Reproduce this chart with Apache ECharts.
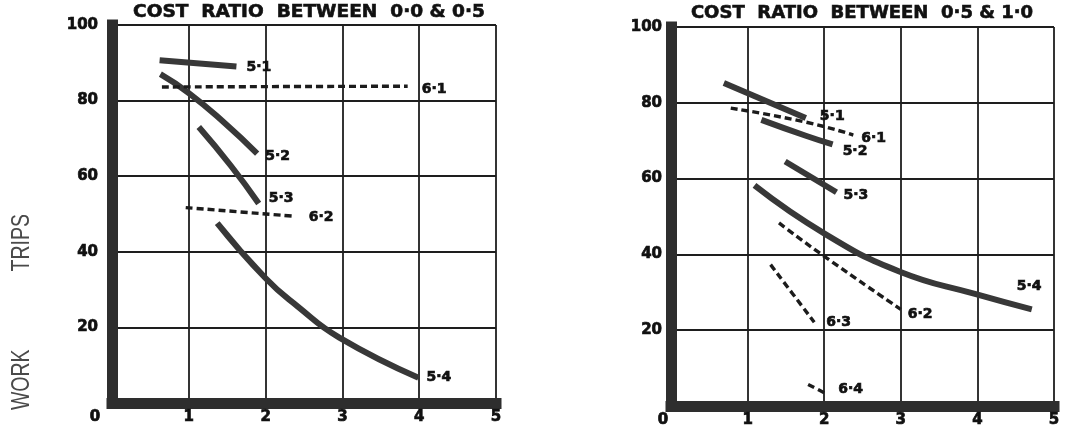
<!DOCTYPE html>
<html><head><meta charset="utf-8">
<script src="https://cdn.jsdelivr.net/npm/echarts@6/dist/echarts.min.js"></script>
<style>html,body{margin:0;padding:0;background:#fff}#c{width:1068px;height:440px}</style>
</head><body><div id="c"></div>
<script>
// ---- text ----
const leftTitle = 'COST  RATIO  BETWEEN  0·0 & 0·5';
const rightTitle = 'COST  RATIO  BETWEEN  0·5 & 1·0';
const yAxisTitle = 'WORK\u2003\u2003\u2003\u2003TRIPS';
const xTicks = [0, 1, 2, 3, 4, 5];
const yTicks = [0, 20, 40, 60, 80, 100];

// ---- left panel: cost ratio 0.0 - 0.5 ----
const L51 = [[0.62, 90.7], [1.62, 89.0]];
const L61 = [[0.65, 83.6], [2.0, 83.7], [3.85, 83.8]];
const L52 = [[0.63, 87.0], [1.0, 82.0], [1.47, 74.0], [1.89, 66.0]];
const L53 = [[1.13, 73.0], [1.55, 62.7], [1.91, 52.8]];
const L62 = [[0.96, 51.7], [2.38, 49.4]];
const L54 = [[1.37, 47.6], [2.0, 33.0], [2.42, 25.5], [2.96, 17.3], [3.99, 6.7]];

// ---- right panel: cost ratio 0.5 - 1.0 ----
const R51 = [[0.69, 85.2], [1.76, 76.0]];
const R61 = [[0.78, 78.6], [1.76, 74.9], [2.38, 71.5]];
const R52 = [[1.18, 75.5], [1.76, 71.3], [2.11, 69.0]];
const R53 = [[1.49, 64.5], [2.16, 56.4]];
const R54 = [[1.09, 58.2], [2.02, 45.3], [2.98, 35.5], [3.98, 29.5], [4.71, 25.5]];
const R62 = [[1.41, 48.3], [2.0, 39.5], [3.0, 25.5]];
const R63 = [[1.30, 37.3], [1.87, 22.1]];
const R64 = [[1.79, 5.7], [2.0, 3.5]];

const leftSeries = [
  {name: '5·1', data: L51, off: [10, 1]},
  {name: '6·1', data: L61, off: [14, 3]},
  {name: '5·2', data: L52, off: [8, 3]},
  {name: '5·3', data: L53, off: [10, -5]},
  {name: '6·2', data: L62, off: [14, 1]},
  {name: '5·4', data: L54, off: [8, 0]}
];
const rightSeries = [
  {name: '5·1', data: R51, off: [14, -2]},
  {name: '6·1', data: R61, off: [8, 3]},
  {name: '5·2', data: R52, off: [10, 7]},
  {name: '5·3', data: R53, off: [7, 3]},
  {name: '5·4', data: R54, off: [-15, -23]},
  {name: '6·2', data: R62, off: [7, 5]},
  {name: '6·3', data: R63, off: [12, 0]},
  {name: '6·4', data: R64, off: [14, -3]}
];

const FONT = 'DejaVu Sans';
const TXT = '#111111';
const heavy = {color: TXT, fontFamily: FONT, fontWeight: 'bold', textBorderColor: TXT, textBorderWidth: 0.7};

function xAxis(gi, zeroPad) {
  return {
    type: 'value', gridIndex: gi, min: xTicks[0], max: xTicks[xTicks.length - 1], interval: 1,
    axisLine: {show: true, onZero: false, lineStyle: {color: '#2e2e2e', width: 11, cap: 'square'}},
    axisTick: {show: false},
    splitLine: {show: true, lineStyle: {color: '#1e1e1e', width: 1.8}},
    axisLabel: Object.assign({
      margin: 7, fontSize: 15,
      formatter: v => v === 0 ? '{z|0}' : String(v),
      rich: {z: Object.assign({padding: [0, zeroPad, 0, 0], fontSize: 15}, heavy)}
    }, heavy)
  };
}
function yAxis(gi, margin) {
  return {
    type: 'value', gridIndex: gi, min: yTicks[0], max: yTicks[yTicks.length - 1], interval: 20,
    axisLine: {show: true, onZero: false, lineStyle: {color: '#2e2e2e', width: 11, cap: 'square'}},
    axisTick: {show: false},
    splitLine: {show: true, lineStyle: {color: '#1e1e1e', width: 1.8}},
    axisLabel: Object.assign({
      margin: margin, fontSize: 15,
      formatter: v => v === 0 ? '' : String(v)
    }, heavy)
  };
}

function buildSeries(list, gi) {
  const out = [];
  list.forEach(s => {
    const dashed = s.name.charAt(0) === '6';
    out.push({
      type: 'line', name: s.name, xAxisIndex: gi, yAxisIndex: gi,
      data: s.data, smooth: true, showSymbol: false, symbol: 'none',
      lineStyle: dashed
        ? {color: '#1c1c1c', width: 3.4, type: [7, 4]}
        : {color: '#383838', width: 6, cap: 'butt'},
      z: dashed ? 3 : 2, silent: true
    });
    out.push({
      type: 'scatter', name: s.name + ' label', xAxisIndex: gi, yAxisIndex: gi,
      data: [s.data[s.data.length - 1]], symbolSize: 0, silent: true, z: 5,
      itemStyle: {opacity: 1},
      label: Object.assign({
        show: true, position: 'right', distance: 0, offset: s.off,
        formatter: s.name, fontSize: 14
      }, heavy)
    });
  });
  return out;
}

const chart = echarts.init(document.getElementById('c'), null, {renderer: 'canvas'});
chart.setOption({
  animation: false,
  backgroundColor: '#ffffff',
  grid: [
    {left: 112, top: 25, width: 384, height: 378},
    {left: 671, top: 27, width: 383, height: 379}
  ],
  xAxis: [xAxis(0, 34), xAxis(1, 16)],
  yAxis: [yAxis(0, 14), yAxis(1, 9)],
  graphic: [
    {type: 'text', x: 309, y: 13, scaleX: 1.09, style: {text: leftTitle, font: 'bold 17px "DejaVu Sans"', fill: TXT, stroke: TXT, lineWidth: 0.6, textAlign: 'center', textVerticalAlign: 'middle'}},
    {type: 'text', x: 862, y: 14, scaleX: 1.06, style: {text: rightTitle, font: 'bold 17px "DejaVu Sans"', fill: TXT, stroke: TXT, lineWidth: 0.6, textAlign: 'center', textVerticalAlign: 'middle'}},
    {type: 'text', x: 22, y: 312, rotation: Math.PI / 2, scaleX: 0.78, style: {text: yAxisTitle, font: '25px "Liberation Sans"', fill: '#4a4a4a', textAlign: 'center', textVerticalAlign: 'middle'}}
  ],
  series: buildSeries(leftSeries, 0).concat(buildSeries(rightSeries, 1))
});
</script></body></html>
